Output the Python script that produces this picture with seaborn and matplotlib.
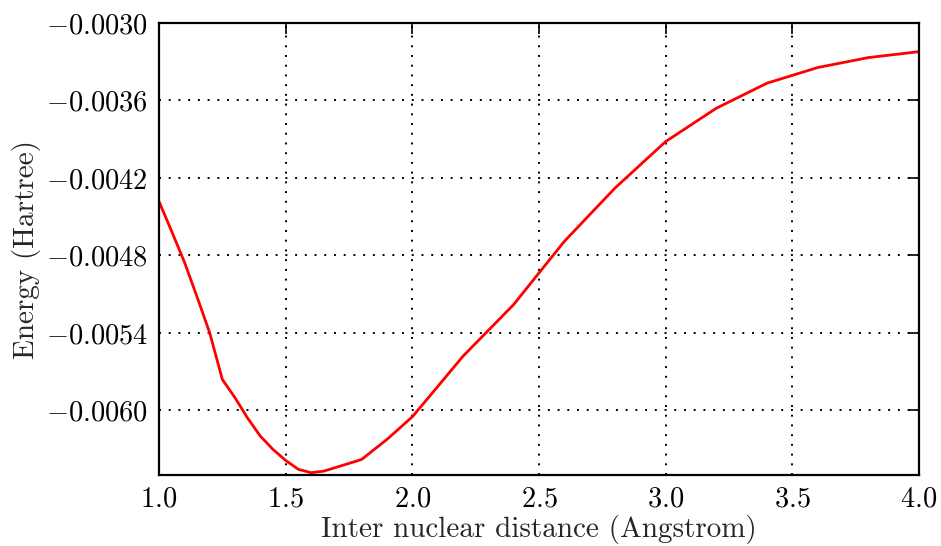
import matplotlib
matplotlib.use("Agg")
import matplotlib.pyplot as plt
import numpy as np
import pandas as pd
import seaborn as sns

# data
distance = [1.0, 1.05, 1.1, 1.15, 1.2, 1.25, 1.3, 1.35, 1.4, 1.45, 1.5,
            1.55, 1.6, 1.65, 1.7, 1.75, 1.8, 1.9, 2.0, 2.1, 2.2, 2.4,
            2.5, 2.6, 2.8, 3.0, 3.2, 3.4, 3.6, 3.8, 4.0]
energy = [-0.004382, -0.004614, -0.004850, -0.005120, -0.005399, -0.005760,
          -0.005902, -0.006060, -0.006199, -0.006302, -0.006387,
          -0.006456, -0.006482, -0.006470, -0.006440, -0.006410, -0.006379,
          -0.006224, -0.006049, -0.005815, -0.005580, -0.005180,
          -0.004935, -0.004691, -0.004278, -0.003918, -0.003660, -0.003466,
          -0.003345, -0.003268, -0.003222]
yticks = [-0.0030, -0.0036, -0.0042, -0.0048, -0.0054, -0.0060]
xticks = [1.0, 1.5, 2.0, 2.5, 3.0, 3.5, 4.0]

df = pd.DataFrame({"distance": distance, "energy": energy})

sns.set_style("white")
plt.rcParams["font.family"] = ["cmr10", "DejaVu Serif"]
plt.rcParams["mathtext.fontset"] = "cm"
plt.rcParams["axes.formatter.use_mathtext"] = True
plt.rcParams["axes.unicode_minus"] = True

fig = plt.figure(figsize=(9.41, 5.46), dpi=100)
ax = fig.add_axes([0.169, 0.130, 0.8076, 0.8279])

sns.lineplot(x="distance", y="energy", data=df, color="red", linewidth=2.0, ax=ax)

ax.set_xlim(1.0, 4.0)
ax.set_ylim(-0.0065, -0.0030)
ax.set_xticks(xticks)
ax.set_yticks(yticks)
ax.yaxis.set_major_formatter(matplotlib.ticker.FormatStrFormatter(r"$%.4f$"))
ax.xaxis.set_major_formatter(matplotlib.ticker.FormatStrFormatter(r"$%.1f$"))
ax.grid(True, color="black", linestyle=(0, (1, 4)), linewidth=1.4)
ax.tick_params(direction="in", length=8, width=1.2, top=True, right=True,
               labelsize=20.5, pad=8, colors="black")
for s in ax.spines.values():
    s.set_linewidth(1.6)
    s.set_color("black")

ax.set_xlabel("Inter nuclear distance (Angstrom)", fontsize=21, labelpad=2)
ax.set_ylabel("Energy (Hartree)", fontsize=21, labelpad=3)

fig.savefig("out.png", dpi=100)
